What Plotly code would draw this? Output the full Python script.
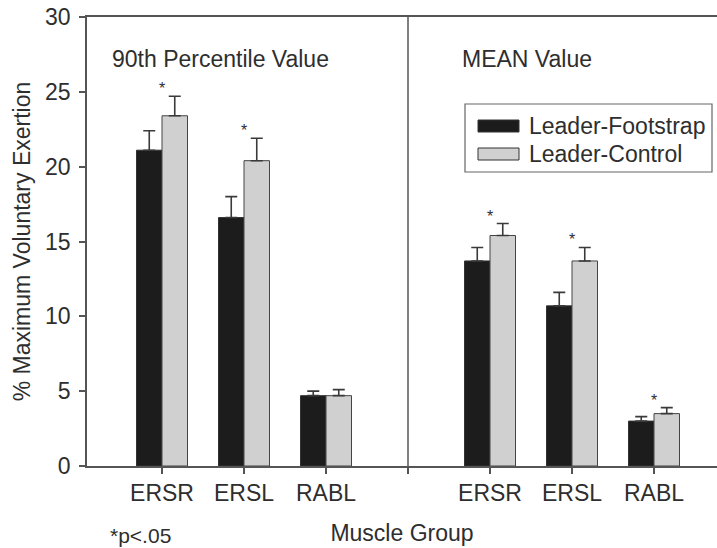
import plotly.graph_objects as go

# Muscle groups shown in each panel (90th percentile panel, then MEAN panel)
groups = ["ERSR", "ERSL", "RABL"]
panel_titles = ["90th Percentile Value", "MEAN Value"]
series_names = ["Leader-Footstrap", "Leader-Control"]

# %MVE values: 90th percentile groups first, then mean groups
footstrap = [21.1, 16.6, 4.7, 13.7, 10.7, 3.0]
footstrap_err_top = [22.4, 18.0, 5.0, 14.6, 11.6, 3.3]
control = [23.4, 20.4, 4.7, 15.4, 13.7, 3.5]
control_err_top = [24.7, 21.9, 5.1, 16.2, 14.6, 3.9]
significant = [True, True, False, True, True, True]

# category positions: panel 1 at 1..3, panel 2 at 5..7, divider at 4
positions = [1, 2, 3, 5, 6, 7]

FONT = "Liberation Sans, Arial, sans-serif"
TXT = "#2e2e2e"
LINE = "#555555"

fig = go.Figure()
fig.add_trace(go.Bar(
    x=positions, y=footstrap, name=series_names[0],
    marker=dict(color="#1c1c1c", line=dict(color="#333333", width=1)),
    error_y=dict(type="data", symmetric=False,
                 array=[t - v for t, v in zip(footstrap_err_top, footstrap)],
                 arrayminus=[0] * len(footstrap),
                 color="#3a3a3a", thickness=1.6, width=6),
    showlegend=False,
))
fig.add_trace(go.Bar(
    x=positions, y=control, name=series_names[1],
    marker=dict(color="#d0d0d0", line=dict(color="#444444", width=1)),
    error_y=dict(type="data", symmetric=False,
                 array=[t - v for t, v in zip(control_err_top, control)],
                 arrayminus=[0] * len(control),
                 color="#3a3a3a", thickness=1.6, width=6),
    showlegend=False,
))

# significance markers above each pair
for xp, top, sig in zip(positions, control_err_top, significant):
    if sig:
        fig.add_annotation(x=xp, y=top, text="*", showarrow=False,
                           xanchor="center", yanchor="bottom", yshift=-3,
                           font=dict(family=FONT, size=16, color=TXT))

# panel divider
fig.add_shape(type="line", x0=4, x1=4, y0=0, y1=30, xref="x", yref="y",
              line=dict(color=LINE, width=1.5))

# panel titles (left-aligned inside each panel)
fig.add_annotation(x=0.37, y=27.2, xref="x", yref="y", text=panel_titles[0],
                   showarrow=False, xanchor="left",
                   font=dict(family=FONT, size=23, color=TXT))
fig.add_annotation(x=4.63, y=27.2, xref="x", yref="y", text=panel_titles[1],
                   showarrow=False, xanchor="left",
                   font=dict(family=FONT, size=23, color=TXT))

# hand-built legend (wide swatches)
W, H = 630.0, 449.0
def px(xv):
    return (xv - 87) / W
def py(yv):
    return (466 - yv) / H

fig.add_shape(type="rect", xref="paper", yref="paper",
              x0=px(465), x1=px(712), y0=py(172), y1=py(104),
              line=dict(color="#666666", width=1.2), fillcolor="white")
swatch_colors = ["#1c1c1c", "#d0d0d0"]
for i, (nm, col) in enumerate(zip(series_names, swatch_colors)):
    cy = 126 + i * 28
    fig.add_shape(type="rect", xref="paper", yref="paper",
                  x0=px(478), x1=px(519), y0=py(cy + 6), y1=py(cy - 6),
                  line=dict(color="#333333", width=1), fillcolor=col)
    fig.add_annotation(xref="paper", yref="paper", x=px(527), y=py(cy),
                       text=nm, showarrow=False, xanchor="left", yanchor="middle",
                       font=dict(family=FONT, size=23, color=TXT))

# footnote
fig.add_annotation(xref="paper", yref="paper", x=px(140), y=py(535),
                   text="*p<.05", showarrow=False,
                   xanchor="center", yanchor="middle",
                   font=dict(family=FONT, size=21, color=TXT))

fig.update_xaxes(
    range=[1 - 75 / 82, 1 - 75 / 82 + 630 / 82],
    tickvals=[1, 2, 3, 4, 5, 6, 7],
    ticktext=groups + [""] + groups,
    ticks="outside", ticklen=6, tickwidth=1.5, tickcolor=LINE,
    showline=True, linecolor=LINE, linewidth=1.5, mirror=True,
    showgrid=False, zeroline=False,
    tickfont=dict(family=FONT, size=23, color=TXT),
    title=dict(text="Muscle Group", standoff=20,
               font=dict(family=FONT, size=23, color=TXT)),
)
fig.update_yaxes(
    range=[0, 30], tickvals=[0, 5, 10, 15, 20, 25, 30],
    ticks="outside", ticklen=6, tickwidth=1.5, tickcolor=LINE,
    showline=True, linecolor=LINE, linewidth=1.5,
    showgrid=False, zeroline=False, ticklabelstandoff=4,
    tickfont=dict(family=FONT, size=23, color=TXT),
    title=dict(text="% Maximum Voluntary Exertion", standoff=8,
               font=dict(family=FONT, size=23, color=TXT)),
)

fig.update_layout(
    width=717, height=548,
    margin=dict(l=87, r=0, t=17, b=82, autoexpand=False),
    barmode="group", bargap=0.378, bargroupgap=0,
    plot_bgcolor="white", paper_bgcolor="white",
)

fig.write_html("out.html")
